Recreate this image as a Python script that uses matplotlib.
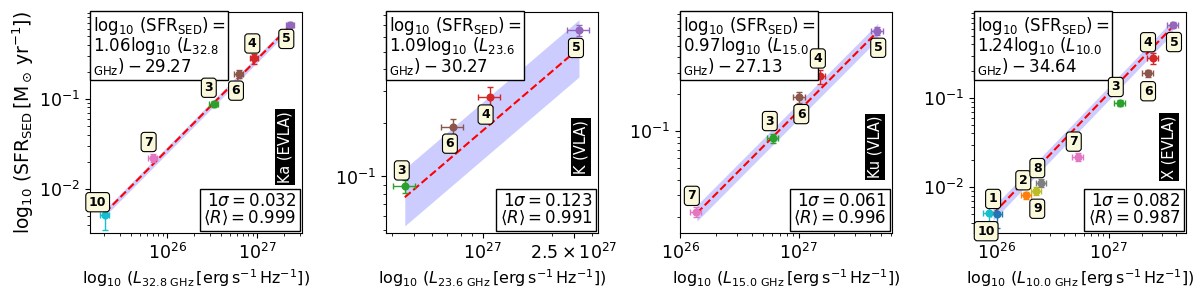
import matplotlib
matplotlib.use('Agg')
import matplotlib.pyplot as plt
import matplotlib.ticker as mticker
import numpy as np

#----------------------------------------------------
# Galaxy data (shared SED star formation rates)
#----------------------------------------------------
gal_ids = [1, 2, 3, 4, 5, 6, 7, 8, 9, 10]
sfr_sed = [0.0050, 0.0081, 0.088, 0.28, 0.66, 0.19, 0.022, 0.0111, 0.0091, 0.0051]
sfr_err_frac = [0.30, 0.10, 0.08, 0.13, 0.07, 0.10, 0.10, 0.10, 0.10, 0.32]
lum_err_frac = 0.11

#----------------------------------------------------
# Per band: galaxies, log10 luminosity, fit line, stats
#----------------------------------------------------
ka_ids = [10, 7, 3, 6, 4, 5]
ka_logL = [25.307, 25.84, 26.52, 26.80, 26.97, 27.37]
ka_fit_logL = [25.31, 27.39]
ka_fit_logsfr = [-2.265, -0.17]
ka_band = 0.037
ka_slope, ka_icpt, ka_sig, ka_R = '1.06', '29.27', '0.032', '0.999'

k_ids = [3, 6, 4, 5]
k_logL = [26.66, 26.87, 27.03, 27.42]
k_fit_logL = [26.66, 27.42]
k_fit_logsfr = [-1.116, -0.283]
k_band = 0.16
k_slope, k_icpt, k_sig, k_R = '1.09', '30.27', '0.123', '0.991'

ku_ids = [7, 3, 6, 4, 5]
ku_logL = [26.131, 26.782, 27.006, 27.18, 27.665]
ku_fit_logL = [26.14, 27.67]
ku_fit_logsfr = [-1.668, -0.185]
ku_band = 0.065
ku_slope, ku_icpt, ku_sig, ku_R = '0.97', '27.13', '0.061', '0.996'

x_ids = [10, 1, 2, 9, 8, 7, 3, 6, 4, 5]
x_logL = [25.935, 26.006, 26.266, 26.355, 26.40, 26.725, 27.10, 27.352, 27.396, 27.574]
x_fit_logL = [25.97, 27.568]
x_fit_logsfr = [-2.30, -0.203]
x_band = 0.075
x_slope, x_icpt, x_sig, x_R = '1.24', '34.64', '0.082', '0.987'

#----------------------------------------------------
# Layout: axes boxes, limits, label offsets (pixels)
#----------------------------------------------------
panels = [
    dict(ids=ka_ids, logL=ka_logL, fx=ka_fit_logL, fy=ka_fit_logsfr, band=ka_band,
         slope=ka_slope, icpt=ka_icpt, sig=ka_sig, R=ka_R, freq='32.8', name='Ka (EVLA)',
         left=90, xlim=(25.144, 27.50), ylim=(-2.49, -0.037),
         off={10: (-7, 13), 7: (-4, 16), 3: (-5, 16), 6: (-3, -17), 4: (-2, 15), 5: (-4, -14)}),
    dict(ids=k_ids, logL=k_logL, fx=k_fit_logL, fy=k_fit_logsfr, band=k_band,
         slope=k_slope, icpt=k_icpt, sig=k_sig, R=k_R, freq='23.6', name='K (VLA)',
         left=386, xlim=(26.578, 27.503), ylim=(-1.316, -0.080),
         off={3: (-3, 16), 6: (-3, -17), 4: (-4, -18), 5: (-3, -18)}),
    dict(ids=ku_ids, logL=ku_logL, fx=ku_fit_logL, fy=ku_fit_logsfr, band=ku_band,
         slope=ku_slope, icpt=ku_icpt, sig=ku_sig, R=ku_R, freq='15.0', name='Ku (VLA)',
         left=680, xlim=(25.997, 27.79), ylim=(-1.83, -0.027),
         off={7: (-4, 16), 3: (-3, 17), 6: (2, -17), 4: (-2, 18), 5: (1, -17)}),
    dict(ids=x_ids, logL=x_logL, fx=x_fit_logL, fy=x_fit_logsfr, band=x_band,
         slope=x_slope, icpt=x_icpt, sig=x_sig, R=x_R, freq='10.0', name='X (EVLA)',
         left=974, xlim=(25.80, 27.69), ylim=(-2.515, -0.034),
         off={10: (-3, -18), 1: (-4, 15), 2: (-3, 15), 9: (1, -18), 8: (-4, 15),
              7: (-4, 15), 3: (-4, 16), 6: (0, -18), 4: (-5, 16), 5: (1, -17)}),
]

colors = plt.get_cmap('tab10').colors

W, H = 1200, 288
fig = plt.figure(figsize=(W / 100, H / 100), dpi=100)

for i, p in enumerate(panels):
    ax = fig.add_axes([p['left'] / W, 55 / H, 212 / W, 221 / H])
    ax.set_xscale('log')
    ax.set_yscale('log')

    # fit line and band
    fx = 10 ** np.array(p['fx'])
    fy = np.array(p['fy'])
    ax.fill_between(fx, 10 ** (fy - p['band']), 10 ** (fy + p['band']),
                    color='blue', alpha=0.2, lw=0, zorder=1)
    ax.plot(fx, 10 ** fy, 'r--', lw=1.5, zorder=2)

    # data points
    for g, lL in zip(p['ids'], p['logL']):
        k = gal_ids.index(g)
        L = 10 ** lL
        s = sfr_sed[k]
        ax.errorbar(L, s, xerr=L * lum_err_frac, yerr=s * sfr_err_frac[k], fmt='o',
                    color=colors[k], ms=4.8, capsize=2.5, elinewidth=1, capthick=1, zorder=3)
        dx, dy = p['off'][g]
        ax.annotate(str(g), (L, s), xytext=(dx, dy), textcoords='offset pixels',
                    ha='center', va='center', fontsize=9, fontweight='bold', zorder=7,
                    bbox=dict(boxstyle='round,pad=0.25', fc='#fbf9dc', ec='black', lw=0.8))

    ax.set_xlim(10 ** p['xlim'][0], 10 ** p['xlim'][1])
    ax.set_ylim(10 ** p['ylim'][0], 10 ** p['ylim'][1])

    eq = (r'$\log_{10}\,(\mathrm{SFR_{SED}}) =$' + '\n' +
          r'$%s\log_{10}\,(L_{%s}$' % (p['slope'], p['freq']) + '\n' +
          r'$_{\rm GHz}) - %s$' % p['icpt'])
    ax.text(0.012, 0.988, eq, transform=ax.transAxes, ha='left', va='top', fontsize=12,
            linespacing=0.92, zorder=6,
            bbox=dict(boxstyle='square,pad=0.18', fc='white', ec='black', lw=1))

    st = r'$1\sigma = %s$' % p['sig'] + '\n' + r'$\langle R\rangle = %s$' % p['R']
    ax.text(0.975, 0.025, st, transform=ax.transAxes, ha='right', va='bottom', fontsize=12,
            multialignment='right', linespacing=0.95, zorder=6,
            bbox=dict(boxstyle='square,pad=0.2', fc='white', ec='black', lw=1))

    ax.text(0.92, 0.39, p['name'], transform=ax.transAxes, rotation=90, color='white',
            ha='center', va='center', fontsize=10.5, zorder=6,
            bbox=dict(fc='black', ec='none', pad=1.5))

    ax.tick_params(which='major', labelsize=12.5)
    ax.set_xlabel(r'$\log_{10}\,(L_{%s\ \mathrm{GHz}}\,[\mathrm{erg\,s^{-1}\,Hz^{-1}}])$' % p['freq'],
                  fontsize=11.5, labelpad=3)
    if i == 0:
        ax.set_ylabel(r'$\log_{10}\,(\mathrm{SFR_{SED}}\,[\mathrm{M_\odot\,yr^{-1}}])$',
                      fontsize=13.5, labelpad=2)
    if i == 1:
        ax.set_xticks([1e27, 2.5e27])
        ax.set_xticklabels([r'$10^{27}$', r'$2.5\times10^{27}$'])
        ax.xaxis.set_minor_formatter(mticker.NullFormatter())

fig.savefig('out.png', dpi=100)
